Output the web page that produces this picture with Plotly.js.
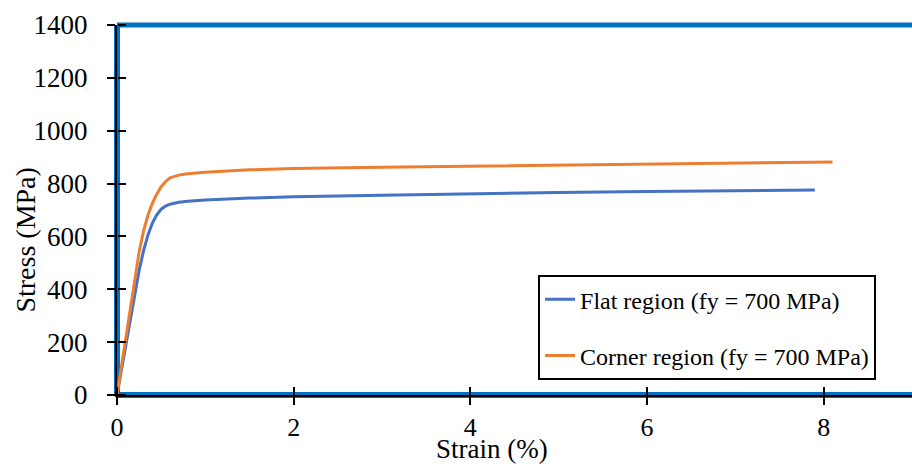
<!DOCTYPE html>
<html>
<head>
<meta charset="utf-8">
<script src="https://cdn.plot.ly/plotly-3.0.1.min.js"></script>
<style>html,body{margin:0;padding:0;background:#fff;}#chart{width:912px;height:464px;}</style>
</head>
<body>
<div id="chart"></div>
<script>
const flatStrain = [0, 0.05, 0.1, 0.15, 0.2, 0.25, 0.3, 0.35, 0.4, 0.45, 0.5, 0.55, 0.6, 0.7, 0.8, 1.0, 1.5, 2, 3, 4, 5, 6, 7, 7.9];
const flatStress = [0, 95, 190, 285, 380, 470, 545, 605, 650, 682, 703, 715, 722, 729, 733, 738, 745, 750, 756, 762, 766, 770, 773, 776];
const cornerStrain = [0, 0.05, 0.1, 0.15, 0.2, 0.25, 0.3, 0.35, 0.4, 0.45, 0.5, 0.55, 0.6, 0.7, 0.8, 1.0, 1.5, 2, 3, 4, 5, 6, 7, 8.1];
const cornerStress = [0, 110, 220, 330, 440, 540, 620, 680, 725, 760, 788, 808, 822, 832, 837, 843, 852, 857, 862, 866, 870, 874, 878, 882];
const seriesNames = ["Flat region (fy = 700 MPa)", "Corner region (fy = 700 MPa)"];
const xTitle = "Strain (%)";
const yTitle = "Stress (MPa)";

const FONT = "Times New Roman, Liberation Serif, serif";
const frameBlue = "#0070C0";

const traces = [
  {x: flatStrain, y: flatStress, type: "scatter", mode: "lines", name: seriesNames[0],
   line: {color: "#4472C4", width: 3}, legendgroup: "a"},
  {x: cornerStrain, y: cornerStress, type: "scatter", mode: "lines", name: seriesNames[1],
   line: {color: "#ED7D31", width: 3}, legendgroup: "b", xaxis: "x2", yaxis: "y2"}
];

const layout = {
  width: 912, height: 464,
  margin: {l: 117, r: 0, t: 25, b: 69},
  paper_bgcolor: "#fff", plot_bgcolor: "#fff",
  font: {family: FONT, color: "#000", size: 26},
  showlegend: true,
  legend: {x: 0.5296, y: 0.04, xanchor: "left", yanchor: "bottom",
    bgcolor: "#fff", bordercolor: "#000", borderwidth: 2,
    font: {family: FONT, size: 24, color: "#000"}, tracegroupgap: 22},
  xaxis: {range: [0, 9], dtick: 2, tick0: 0, ticks: "outside", ticklen: 8, tickwidth: 2, tickcolor: "#000",
    showline: true, linecolor: "#000", linewidth: 2, showgrid: false, zeroline: false,
    tickfont: {family: FONT, size: 26, color: "#000"}, ticklabelstandoff: 0},
  yaxis: {range: [0, 1400], dtick: 200, tick0: 0, ticks: "outside", ticklen: 8, tickwidth: 2, tickcolor: "#000",
    showline: true, linecolor: "#000", linewidth: 2, showgrid: false, zeroline: false,
    tickfont: {family: FONT, size: 27, color: "#000"}, ticklabelstandoff: 14},
  xaxis2: {overlaying: "x", anchor: "free", position: 0, side: "top", range: [0, 9], dtick: 2, tick0: 0,
    ticks: "outside", ticklen: 8, tickwidth: 2, tickcolor: "#000", showticklabels: false,
    showline: false, showgrid: false, zeroline: false},
  yaxis2: {overlaying: "y", anchor: "free", position: 0, side: "right", range: [0, 1400], dtick: 200, tick0: 0,
    ticks: "outside", ticklen: 8, tickwidth: 2, tickcolor: "#000", showticklabels: false,
    showline: false, showgrid: false, zeroline: false},
  annotations: [
    {text: xTitle, xref: "paper", yref: "paper", x: 0.472, y: -0.147, xanchor: "center", yanchor: "middle",
     showarrow: false, font: {family: FONT, size: 27, color: "#000"}},
    {text: yTitle, xref: "paper", yref: "paper", x: -0.1145, y: 0.42, xanchor: "center", yanchor: "middle",
     textangle: -90, showarrow: false, font: {family: FONT, size: 28, color: "#000"}}
  ],
  shapes: [
    {type: "line", xref: "paper", yref: "paper", x0: 0, x1: 1, y0: 1, y1: 1, line: {color: frameBlue, width: 5}, layer: "below"},
    {type: "line", xref: "paper", yref: "paper", x0: 0, x1: 1, y0: 0, y1: 0, line: {color: frameBlue, width: 6}, layer: "below"},
    {type: "line", xref: "paper", yref: "paper", x0: 0, x1: 0, y0: 0, y1: 1, line: {color: frameBlue, width: 6}, layer: "below"}
  ]
};

Plotly.newPlot("chart", traces, layout, {displayModeBar: false, staticPlot: true});
</script>
</body>
</html>
